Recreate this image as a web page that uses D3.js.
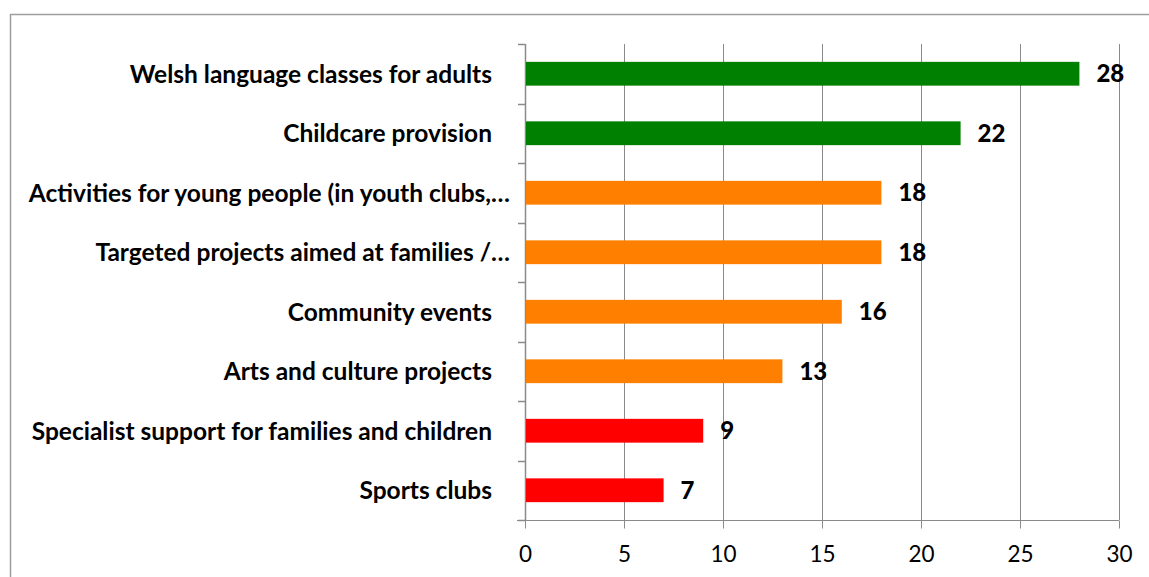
<!DOCTYPE html>
<html>
<head>
<meta charset="utf-8">
<script src="https://cdn.jsdelivr.net/npm/d3@7"></script>
<style>
  html, body { margin: 0; padding: 0; background: #fff; }
  svg { display: block; }
</style>
</head>
<body>
<svg id="chart" width="1149" height="577"></svg>
<script>
// Responses per initiative, top to bottom
const categories = [
  "Welsh language classes for adults",
  "Childcare provision",
  "Activities for young people (in youth clubs,…",
  "Targeted projects aimed at families /…",
  "Community events",
  "Arts and culture projects",
  "Specialist support for families and children",
  "Sports clubs"
];
const values = [28, 22, 18, 18, 16, 13, 9, 7];
const barColors = ["#008000", "#008000", "#FF8000", "#FF8000", "#FF8000", "#FF8000", "#FF0000", "#FF0000"];
const xTicks = [0, 5, 10, 15, 20, 25, 30];

const svg = d3.select("#chart");
const plot = { left: 525, right: 1119, top: 44, bottom: 520 };
const gridColor = "#8a8a8a";
const font = "Lato, 'Open Sans', sans-serif";

// outer chart frame
svg.append("rect")
  .attr("x", 10.5).attr("y", 14.5)
  .attr("width", 1300).attr("height", 800)
  .attr("fill", "none").attr("stroke", "#9e9e9e").attr("stroke-width", 1.5);

const x = d3.scaleLinear().domain([0, 30]).range([plot.left, plot.right]);
const y = d3.scaleBand().domain(categories).range([plot.top, plot.bottom]).paddingInner(0.6).paddingOuter(0.3);
const yBands = d3.scaleBand().domain(categories).range([plot.top, plot.bottom]);

// vertical gridlines
svg.append("g")
  .selectAll("line")
  .data(xTicks.filter(d => d > 0))
  .join("line")
  .attr("x1", d => Math.round(x(d)) + 0.5).attr("x2", d => Math.round(x(d)) + 0.5)
  .attr("y1", plot.top).attr("y2", plot.bottom)
  .attr("stroke", gridColor).attr("stroke-width", 1);

// x axis
const xAxis = svg.append("g")
  .attr("transform", `translate(0,${plot.bottom + 0.5})`)
  .call(d3.axisBottom(x).tickValues(xTicks).tickSize(8).tickPadding(18).tickSizeOuter(0));
xAxis.select(".domain").attr("stroke", gridColor).attr("d", `M${plot.left - 8},0H${plot.right}`);
xAxis.selectAll(".tick line").attr("stroke", gridColor);
xAxis.selectAll(".tick text")
  .attr("fill", "#000")
  .style("font-family", font).style("font-size", "22.5px");

// y axis with ticks on category boundaries
const yAxisG = svg.append("g");
yAxisG.append("line")
  .attr("x1", plot.left + 0.5).attr("x2", plot.left + 0.5)
  .attr("y1", plot.top).attr("y2", plot.bottom)
  .attr("stroke", gridColor).attr("stroke-width", 1.5);
const boundaries = categories.map(c => yBands(c)).concat([plot.bottom]);
yAxisG.selectAll("line.tick")
  .data(boundaries)
  .join("line").attr("class", "tick")
  .attr("x1", plot.left - 7).attr("x2", plot.left)
  .attr("y1", d => Math.round(d) + 0.5).attr("y2", d => Math.round(d) + 0.5)
  .attr("stroke", gridColor).attr("stroke-width", 1.5);

// bars
svg.append("g")
  .selectAll("rect")
  .data(categories)
  .join("rect")
  .attr("x", x(0) + 1)
  .attr("y", d => y(d))
  .attr("width", (d, i) => x(values[i]) - x(0) - 1)
  .attr("height", y.bandwidth())
  .attr("fill", (d, i) => barColors[i]);

// category labels
svg.append("g")
  .selectAll("text")
  .data(categories)
  .join("text")
  .attr("x", d => d.endsWith("…") ? plot.left - 15 : plot.left - 33)
  .attr("y", d => y(d) + y.bandwidth() / 2)
  .attr("dy", "0.36em")
  .attr("text-anchor", "end")
  .style("font-family", font).style("font-weight", "bold").style("font-size", "24.5px")
  .attr("fill", "#000")
  .text(d => d);

// value labels
svg.append("g")
  .selectAll("text")
  .data(categories)
  .join("text")
  .attr("x", (d, i) => x(values[i]) + 17)
  .attr("y", d => y(d) + y.bandwidth() / 2)
  .attr("dy", "0.36em")
  .style("font-family", font).style("font-weight", "900").style("font-size", "24px")
  .attr("fill", "#000")
  .text((d, i) => values[i]);
</script>
</body>
</html>
